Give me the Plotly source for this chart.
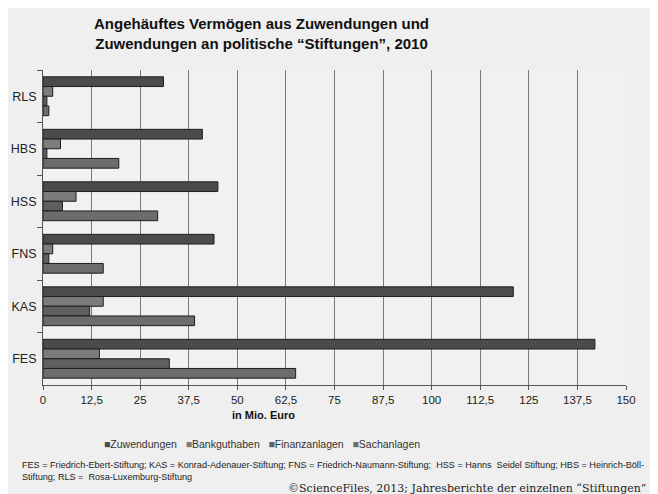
import plotly.graph_objects as go

# Stiftungen, top to bottom as in the chart
stiftungen = ["RLS", "HBS", "HSS", "FNS", "KAS", "FES"]

# Werte in Mio. Euro
zuwendungen = [31, 41, 45, 44, 121, 142]
bankguthaben = [2.5, 4.5, 8.5, 2.5, 15.5, 14.5]
finanzanlagen = [1, 1, 5, 1.5, 12, 32.5]
sachanlagen = [1.5, 19.5, 29.5, 15.5, 39, 65]

x_ticks = [0, 12.5, 25, 37.5, 50, 62.5, 75, 87.5, 100, 112.5, 125, 137.5, 150]
x_labels = ["0", "12,5", "25", "37,5", "50", "62,5", "75", "87,5", "100",
            "112,5", "125", "137,5", "150"]

series = [
    ("Zuwendungen", zuwendungen, "#4b4b4b"),
    ("Bankguthaben", bankguthaben, "#7c7c7c"),
    ("Finanzanlagen", finanzanlagen, "#5f5f5f"),
    ("Sachanlagen", sachanlagen, "#6c6c6c"),
]

sans = "Liberation Sans, Arial, sans-serif"

fig = go.Figure()
for name, vals, color in series:
    fig.add_trace(go.Bar(
        y=stiftungen,
        x=vals,
        name=name,
        orientation="h",
        marker=dict(color=color, line=dict(color="#1e1e1e", width=1)),
        showlegend=False,
    ))

# legend drawn as one text line, like the compact original
legend_text = "&nbsp;&nbsp;&nbsp;".join(
    f"<span style='color:{c}'>■</span>{n}" for n, _, c in series
)

# page body has an 8px margin, so the figure is 8px smaller than the window
fig.update_layout(
    width=650,
    height=486,
    barmode="group",
    bargap=0.26,
    bargroupgap=0,
    paper_bgcolor="#efefef",
    plot_bgcolor="#f1f1f1",
    font=dict(family=sans, color="#1a1a1a", size=12),
    margin=dict(l=35, r=32, t=62, b=109),
    xaxis=dict(
        range=[0, 150],
        tickvals=x_ticks,
        ticktext=x_labels,
        showgrid=True,
        gridcolor="#7a7a7a",
        gridwidth=1,
        zeroline=False,
        showline=True,
        linecolor="#555555",
        ticks="outside",
        ticklen=4,
        tickcolor="#555555",
        tickfont=dict(size=11.5, family=sans, color="#222222"),
        automargin=False,
    ),
    yaxis=dict(
        autorange="reversed",
        showline=True,
        linecolor="#555555",
        ticks="outside",
        tickson="boundaries",
        ticklen=5,
        tickcolor="#555555",
        tickfont=dict(size=12.5, family=sans, color="#222222"),
        ticklabelstandoff=3,
        automargin=False,
    ),
    annotations=[
        dict(text="<b>Angehäuftes Vermögen aus Zuwendungen und<br>Zuwendungen an politische “Stiftungen”, 2010</b>",
             xref="paper", yref="paper", x=0.374, y=1.116, xanchor="center", yanchor="middle",
             showarrow=False, font=dict(size=15, family=sans, color="#111111")),
        dict(text="<b>in Mio. Euro</b>", xref="paper", yref="paper",
             x=0.379, y=-0.095, xanchor="center", yanchor="middle",
             showarrow=False, font=dict(size=11, family=sans, color="#111111")),
        dict(text=legend_text, xref="paper", yref="paper",
             x=0.375, y=-0.187, xanchor="center", yanchor="middle",
             showarrow=False, font=dict(size=10.5, family=sans, color="#333333")),
        dict(text="FES = Friedrich-Ebert-Stiftung; KAS = Konrad-Adenauer-Stiftung; FNS = Friedrich-Naumann-Stiftung;  HSS = Hanns  Seidel Stiftung; HBS = Heinrich-Böll-<br>Stiftung; RLS =  Rosa-Luxemburg-Stiftung",
             xref="paper", yref="paper", x=-0.039, y=-0.232, xanchor="left", yanchor="top",
             align="left", showarrow=False, font=dict(size=9.1, family=sans, color="#222222")),
        dict(text="©ScienceFiles, 2013; Jahresberichte der einzelnen “Stiftungen”",
             xref="paper", yref="paper", x=1.038, y=-0.327, xanchor="right", yanchor="middle",
             showarrow=False, font=dict(size=11, family="DejaVu Serif, Liberation Serif, serif", color="#222222")),
    ],
)

fig.write_html("out.html")
